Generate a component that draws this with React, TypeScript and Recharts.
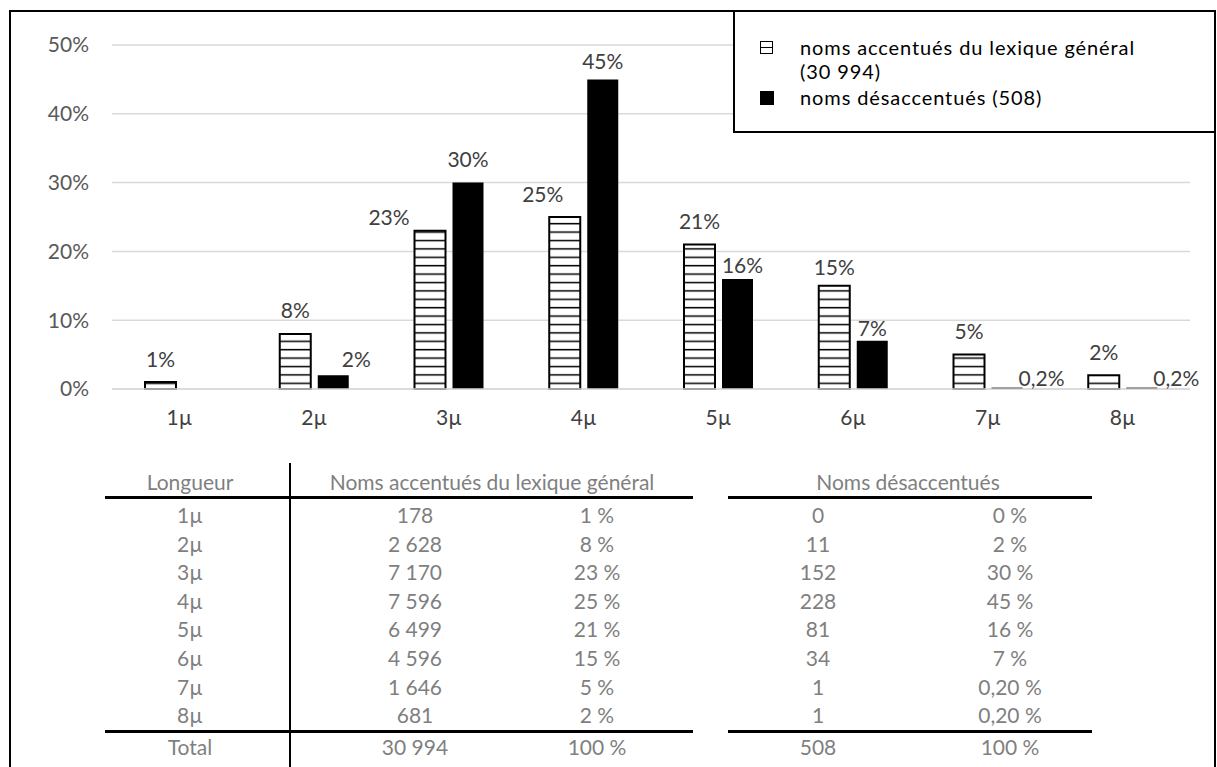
import React from 'react';
import { BarChart, Bar, XAxis, YAxis, CartesianGrid, LabelList } from 'recharts';

// ---- data ----
const categories = ['1µ', '2µ', '3µ', '4µ', '5µ', '6µ', '7µ', '8µ'];
const accentPct = [1, 8, 23, 25, 21, 15, 5, 2];
const deaccentPct = [0, 2, 30, 45, 16, 7, 0.2, 0.2];
const accentCounts = [178, 2628, 7170, 7596, 6499, 4596, 1646, 681];
const deaccentCounts = [0, 11, 152, 228, 81, 34, 1, 1];
const accentTotal = 30994;
const deaccentTotal = 508;
const yTicks = [0, 10, 20, 30, 40, 50];
const accentName = 'noms accentués du lexique général';
const deaccentName = 'noms désaccentués';
const tableHeaders = ['Longueur', 'Noms accentués du lexique général', 'Noms désaccentués'];
const totalLabel = 'Total';

// ---- styling ----
const FONT = 'Lato, "Open Sans", sans-serif';
// label nudges (dx, dy) keyed by series + label value
const labelNudge: Record<string, [number, number]> = {
  'a-23': [-41, 10],
  'a-25': [-22, 0],
  'a-15': [0, 5],
  'd-2': [23, 7],
  'd-45': [0, 5],
  'd-16': [5, 10],
  'd-7': [0, 11],
};

const fmtNum = (n: number) => String(n).replace(/\B(?=(\d{3})+(?!\d))/g, '\u00a0');
const fmtPctTable = (v: number) => (v > 0 && v < 1 ? v.toFixed(2).replace('.', ',') : String(v)) + '\u00a0%';

const makeLabel = (key: string) => (props: any) => {
  const { x, y, width, height, value } = props;
  if (!value) return null;
  const text = String(value).replace('.', ',') + '%';
  const common = { fill: '#404040', fontSize: 21, fontFamily: FONT };
  if (value < 0.5) {
    return (
      <text x={x + width - 4} y={y + height - 12} textAnchor="start" dominantBaseline="central" {...common}>
        {text}
      </text>
    );
  }
  const [dx, dy] = labelNudge[`${key}-${value}`] || [0, 0];
  return (
    <text x={x + width / 2 + dx} y={y - 24 + dy} textAnchor="middle" dominantBaseline="central" {...common}>
      {text}
    </text>
  );
};

const T = ({ x, y, text, w = 300, color = '#7f7f7f', size = 21 }: any) => (
  <div
    style={{
      position: 'absolute',
      left: x - w / 2,
      top: y - 14,
      width: w,
      height: 28,
      lineHeight: '28px',
      textAlign: 'center',
      fontSize: size,
      color,
      whiteSpace: 'nowrap',
    }}
  >
    {text}
  </div>
);

const L = ({ x, y, text }: any) => (
  <div
    style={{
      position: 'absolute',
      left: x,
      top: y - 12,
      height: 24,
      lineHeight: '24px',
      fontSize: 20,
      letterSpacing: '0.9px',
      color: '#000',
      whiteSpace: 'nowrap',
    }}
  >
    {text}
  </div>
);

const HLine = ({ x1, x2, y, t = 3 }: any) => (
  <div style={{ position: 'absolute', left: x1, top: y - t / 2, width: x2 - x1, height: t, background: '#000' }} />
);

export default function App() {
  const data = categories.map((c, i) => ({ cat: c, accent: accentPct[i], deaccent: deaccentPct[i] }));
  const rowY = (i: number) => 515 + i * 28.6;
  return (
    <div
      style={{
        position: 'absolute',
        left: 0,
        top: 0,
        width: 1217,
        height: 767,
        overflow: 'hidden',
        background: '#fff',
        fontFamily: FONT,
      }}
    >
      <div
        style={{
          position: 'absolute',
          left: 9,
          top: 10,
          width: 1203,
          height: 800,
          borderTop: '2px solid #000',
          borderLeft: '2px solid #000',
          borderRight: '2px solid #000',
        }}
      />
      <div style={{ position: 'absolute', left: 0, top: 0 }}>
        <BarChart
          width={1217}
          height={440}
          data={data}
          margin={{ top: 45, right: 27, bottom: 0, left: 0 }}
          barSize={31}
          barGap={7}
        >
          <defs>
            <pattern id="hatch" patternUnits="userSpaceOnUse" width="8" height="8.4">
              <rect x="0" y="0" width="8" height="8.4" fill="#fff" />
              <line x1="0" y1="5.3" x2="8" y2="5.3" stroke="#000" strokeWidth="1.5" />
            </pattern>
          </defs>
          <CartesianGrid vertical={false} stroke="#d9d9d9" strokeWidth={1.5} />
          <XAxis
            dataKey="cat"
            axisLine={{ stroke: '#d9d9d9', strokeWidth: 1.5 }}
            tickLine={false}
            tickMargin={15}
            height={51}
            interval={0}
            tick={{ fill: '#404040', fontSize: 21, fontFamily: FONT }}
          />
          <YAxis
            domain={[0, 50]}
            ticks={yTicks}
            width={112}
            axisLine={false}
            tickLine={false}
            tickMargin={17}
            tickFormatter={(v: number) => v + '%'}
            tick={{ fill: '#595959', fontSize: 21, fontFamily: FONT }}
          />
          <Bar dataKey="accent" fill="url(#hatch)" stroke="#000" strokeWidth={2} isAnimationActive={false}>
            <LabelList dataKey="accent" content={makeLabel('a')} />
          </Bar>
          <Bar dataKey="deaccent" fill="#000" isAnimationActive={false}>
            <LabelList dataKey="deaccent" content={makeLabel('d')} />
          </Bar>
        </BarChart>
      </div>

      {/* legend */}
      <div
        style={{
          position: 'absolute',
          left: 733,
          top: 10,
          width: 479,
          height: 119,
          border: '2px solid #000',
          background: '#fff',
        }}
      />
      <div
        style={{
          position: 'absolute',
          left: 760,
          top: 41,
          width: 11,
          height: 11,
          border: '1.5px solid #000',
          background: 'linear-gradient(#fff 0, #fff 5px, #000 5px, #000 6.5px, #fff 6.5px)',
        }}
      />
      <L x={800} y={47} text={accentName} />
      <L x={800} y={71} text={`(${fmtNum(accentTotal)})`} />
      <div style={{ position: 'absolute', left: 760, top: 91, width: 14, height: 14, background: '#000' }} />
      <L x={800} y={97} text={`${deaccentName} (${deaccentTotal})`} />

      {/* table */}
      <T x={190} y={482} text={tableHeaders[0]} />
      <T x={492} y={482} text={tableHeaders[1]} w={420} />
      <T x={908} y={482} text={tableHeaders[2]} />
      <HLine x1={105} x2={693} y={497} />
      <HLine x1={728} x2={1092} y={497} />
      <div style={{ position: 'absolute', left: 289, top: 463, width: 2, height: 320, background: '#000' }} />
      {categories.map((c, i) => (
        <React.Fragment key={c}>
          <T x={190} y={rowY(i)} text={c} />
          <T x={415} y={rowY(i)} text={fmtNum(accentCounts[i])} />
          <T x={597} y={rowY(i)} text={fmtPctTable(accentPct[i])} />
          <T x={818} y={rowY(i)} text={fmtNum(deaccentCounts[i])} />
          <T x={1010} y={rowY(i)} text={fmtPctTable(deaccentPct[i])} />
        </React.Fragment>
      ))}
      <HLine x1={105} x2={693} y={731} />
      <HLine x1={728} x2={1092} y={731} />
      <T x={190} y={747} text={totalLabel} />
      <T x={415} y={747} text={fmtNum(accentTotal)} />
      <T x={597} y={747} text={fmtPctTable(100)} />
      <T x={818} y={747} text={fmtNum(deaccentTotal)} />
      <T x={1010} y={747} text={fmtPctTable(100)} />
    </div>
  );
}
